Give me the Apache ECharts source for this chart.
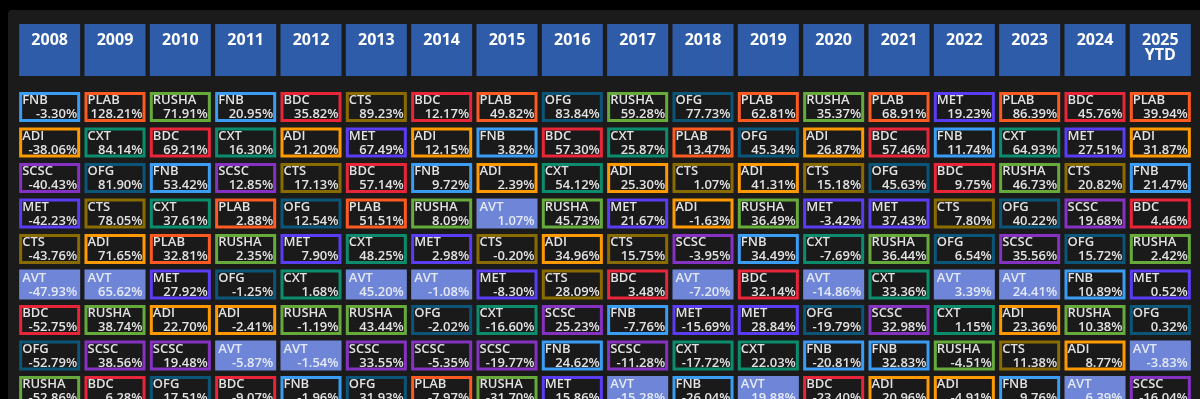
<!DOCTYPE html>
<html>
<head>
<meta charset="utf-8">
<script src="https://cdn.jsdelivr.net/npm/echarts@6/dist/echarts.min.js"></script>
<style>
html,body{margin:0;padding:0;background:#000;overflow:hidden;}
#chart{width:1200px;height:470px;}
</style>
</head>
<body>
<div id="chart"></div>
<script>
const years = ['2008','2009','2010','2011','2012','2013','2014','2015','2016','2017','2018','2019','2020','2021','2022','2023','2024','2025\nYTD'];

// tickers per year, ranked best to worst (visible rows)
const tickerGrid = [
  ['FNB','ADI','SCSC','MET','CTS','AVT','BDC','OFG','RUSHA'],
  ['PLAB','CXT','OFG','CTS','ADI','AVT','RUSHA','SCSC','BDC'],
  ['RUSHA','BDC','FNB','CXT','PLAB','MET','ADI','SCSC','OFG'],
  ['FNB','CXT','SCSC','PLAB','RUSHA','OFG','ADI','AVT','BDC'],
  ['BDC','ADI','CTS','OFG','MET','CXT','RUSHA','AVT','FNB'],
  ['CTS','MET','BDC','PLAB','CXT','AVT','RUSHA','SCSC','OFG'],
  ['BDC','ADI','FNB','RUSHA','MET','AVT','OFG','SCSC','PLAB'],
  ['PLAB','FNB','ADI','AVT','CTS','MET','CXT','SCSC','RUSHA'],
  ['OFG','BDC','CXT','RUSHA','ADI','CTS','SCSC','FNB','MET'],
  ['RUSHA','CXT','ADI','MET','CTS','BDC','FNB','SCSC','AVT'],
  ['OFG','PLAB','CTS','ADI','SCSC','AVT','MET','CXT','FNB'],
  ['PLAB','OFG','ADI','RUSHA','FNB','BDC','MET','CXT','AVT'],
  ['RUSHA','ADI','CTS','MET','CXT','AVT','OFG','FNB','BDC'],
  ['PLAB','BDC','OFG','MET','RUSHA','CXT','SCSC','FNB','ADI'],
  ['MET','FNB','BDC','CTS','OFG','AVT','CXT','RUSHA','ADI'],
  ['PLAB','CXT','RUSHA','OFG','SCSC','AVT','ADI','CTS','FNB'],
  ['BDC','MET','CTS','SCSC','OFG','FNB','RUSHA','ADI','AVT'],
  ['PLAB','ADI','FNB','BDC','RUSHA','MET','OFG','AVT','SCSC']
];

// annual returns (%) matching tickerGrid
const returnGrid = [
  [-3.30,-38.06,-40.43,-42.23,-43.76,-47.93,-52.75,-52.79,-52.86],
  [128.21,84.14,81.90,78.05,71.65,65.62,38.74,38.56,6.28],
  [71.91,69.21,53.42,37.61,32.81,27.92,22.70,19.48,17.51],
  [20.95,16.30,12.85,2.88,2.35,-1.25,-2.41,-5.87,-9.07],
  [35.82,21.20,17.13,12.54,7.90,1.68,-1.19,-1.54,-1.96],
  [89.23,67.49,57.14,51.51,48.25,45.20,43.44,33.55,31.93],
  [12.17,12.15,9.72,8.09,2.98,-1.08,-2.02,-5.35,-7.97],
  [49.82,3.82,2.39,1.07,-0.20,-8.30,-16.60,-19.77,-31.70],
  [83.84,57.30,54.12,45.73,34.96,28.09,25.23,24.62,15.86],
  [59.28,25.87,25.30,21.67,15.75,3.48,-7.76,-11.28,-15.28],
  [77.73,13.47,1.07,-1.63,-3.95,-7.20,-15.69,-17.72,-26.04],
  [62.81,45.34,41.31,36.49,34.49,32.14,28.84,22.03,19.88],
  [35.37,26.87,15.18,-3.42,-7.69,-14.86,-19.79,-20.81,-23.40],
  [68.91,57.46,45.63,37.43,36.44,33.36,32.98,32.83,20.96],
  [19.23,11.74,9.75,7.80,6.54,3.39,1.15,-4.51,-4.91],
  [86.39,64.93,46.73,40.22,35.56,24.41,23.36,11.38,9.76],
  [45.76,27.51,20.82,19.68,15.72,10.89,10.38,8.77,6.39],
  [39.94,31.87,21.47,4.46,2.42,0.52,0.32,-3.83,-16.04]
];

const tickerColors = {
  FNB:'#3a9cf2', PLAB:'#fd5a22', RUSHA:'#67aa3c', BDC:'#e7263a', CTS:'#8a6b00',
  OFG:'#0b5678', ADI:'#fe9a00', CXT:'#0b8d6d', MET:'#5a3cf2', SCSC:'#8532c2', AVT:'#6f86d8'
};

const HEADER_ROW = -1.606;
const cellData = [];
years.forEach((y, i) => {
  tickerGrid[i].forEach((t, r) => {
    cellData.push([i, r, t, returnGrid[i][r]]);
  });
});
const headerData = years.map((y, i) => [i, HEADER_ROW, y]);

const chart = echarts.init(document.getElementById('chart'));
const FONT = '"Open Sans", "Noto Sans", sans-serif';

function fmt(v){ return v.toFixed(2) + '%'; }

chart.setOption({
  backgroundColor: '#000',
  animation: false,
  graphic: [{
    type: 'rect', z: -10, silent: true,
    shape: { x: 8, y: 10, width: 1200, height: 500, r: 4 },
    style: { fill: '#1b1b1b' }
  }],
  grid: { left: 17, top: 18.25, width: 1176, height: 408.25 },
  xAxis: { type: 'category', data: years, show: false, boundaryGap: true },
  yAxis: { type: 'value', inverse: true, min: -2.5, max: 9, show: false },
  series: [
    {
      type: 'custom',
      data: headerData,
      renderItem: function (params, api) {
        const c = api.coord([api.value(0), api.value(1)]);
        const w = api.size([1, 0])[0] - 4.3;
        const h = 52;
        const label = years[api.value(0)];
        return {
          type: 'group',
          children: [
            { type: 'rect', shape: { x: c[0] - w / 2, y: c[1] - h / 2, width: w, height: h },
              style: { fill: '#2e5ca8' } },
            { type: 'text', style: { x: c[0], y: c[1] - 17, text: label, align: 'center', verticalAlign: 'top',
              fill: '#ffffff', font: 'bold 16px ' + FONT, lineHeight: 15 } }
          ]
        };
      }
    },
    {
      type: 'custom',
      data: cellData,
      renderItem: function (params, api) {
        const c = api.coord([api.value(0), api.value(1)]);
        const w = api.size([1, 0])[0] - 4.3;
        const h = 30;
        const t = cellData[params.dataIndex][2];
        const v = cellData[params.dataIndex][3];
        const col = tickerColors[t];
        const isAvt = t === 'AVT';
        const x0 = c[0] - w / 2, y0 = c[1] - h / 2;
        const textFill = isAvt ? '#e4e9f7' : '#e2e2e2';
        return {
          type: 'group',
          children: [
            isAvt
              ? { type: 'rect', shape: { x: x0, y: y0, width: w, height: h }, style: { fill: col } }
              : { type: 'rect', shape: { x: x0 + 1.5, y: y0 + 1.5, width: w - 3, height: h - 3 },
                  style: { fill: '#1a1a1a', stroke: col, lineWidth: 3 } },
            { type: 'text', style: { x: x0 + 3, y: y0 + 2, text: t, align: 'left', verticalAlign: 'top',
              fill: textFill, font: '600 13px ' + FONT } },
            { type: 'text', style: { x: x0 + w - 3, y: y0 + h - 1, text: fmt(v), align: 'right', verticalAlign: 'bottom',
              fill: textFill, font: '600 13px ' + FONT } }
          ]
        };
      }
    }
  ]
});
</script>
</body>
</html>
